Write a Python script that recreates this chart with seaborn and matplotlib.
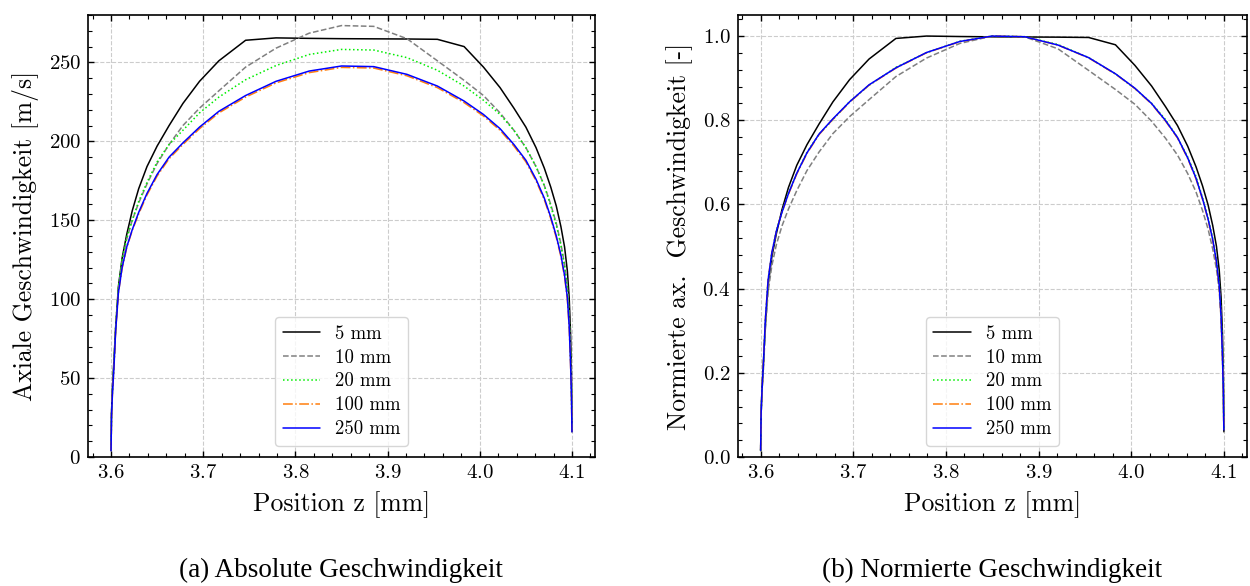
import matplotlib
matplotlib.use("Agg")
import pandas as pd
import matplotlib.pyplot as plt
import seaborn as sns
from matplotlib.ticker import MultipleLocator

# Position across the channel [mm]
z_mm = [3.6000, 3.6005, 3.6015, 3.6030, 3.6050, 3.6080, 3.6120, 3.6170, 3.6230, 3.6300,
        3.6390, 3.6500, 3.6630, 3.6780, 3.6960, 3.7170, 3.7460, 3.7790, 3.8150, 3.8500,
        3.8850, 3.9210, 3.9540, 3.9830, 4.0040, 4.0220, 4.0370, 4.0500, 4.0610, 4.0700,
        4.0770, 4.0830, 4.0880, 4.0920, 4.0950, 4.0970, 4.0985, 4.0995, 4.1000]

# axial velocity [m/s] for each distance
v_5mm = [4, 28, 44, 60, 82, 108, 126, 141, 156, 170,
         184, 197, 210, 224, 238, 251, 264, 265.5, 265.2, 265.0,
         264.9, 264.8, 264.6, 260, 247, 234, 221, 209, 196, 183,
         171, 159, 146, 133, 118, 101, 78, 52, 16]
v_10mm = [4, 27, 42, 57, 82, 107, 124, 138, 150, 161,
          173, 186, 198, 210, 221, 232, 247, 259, 268.5, 273.3,
          272.8, 265, 251, 238.6, 229, 218, 207, 196, 184, 172,
          160, 148, 135, 122, 108, 90, 66, 44, 16]
v_20mm = [4, 27, 42, 57, 83, 108, 125, 139, 150, 162,
          174, 187, 198, 207, 218, 228, 239, 248, 255, 258.2,
          257.8, 253, 245, 235, 226, 217, 207, 196, 184, 172,
          159, 147, 134, 121, 107, 89, 64, 42, 17]
v_100mm = [4, 26, 40, 55, 80, 104, 119.5, 132.5, 143.5, 154,
           166, 178, 189, 198, 208, 218, 228, 237, 243.5, 246.8,
           246.4, 241.5, 234, 224.5, 216, 207, 197, 187, 175, 163,
           151, 139, 127, 114, 100, 82, 58, 38, 16]
v_250mm = [4, 26, 40, 55, 80, 104, 120, 133, 144, 155,
           167, 179, 190, 199, 209, 219, 229, 238, 244.5, 247.7,
           247.3, 242.4, 235, 225.5, 217, 208, 198, 188, 176, 164,
           152, 140, 128, 115, 101, 83, 59, 38, 16]

labels = ["5 mm", "10 mm", "20 mm", "100 mm", "250 mm"]
series = [v_5mm, v_10mm, v_20mm, v_100mm, v_250mm]
colors = ["black", "#808080", "#00ee00", "#ff7f0e", "#0000ff"]
dash_styles = ["", (3.7, 1.6), (1, 1.65), (6.4, 1.6, 1, 1.6), ""]

frames = []
for lab, vals in zip(labels, series):
    d = pd.DataFrame({"z": z_mm, "v": vals})
    d["v_norm"] = d["v"] / d["v"].max()
    d["Abstand"] = lab
    frames.append(d)
df = pd.concat(frames, ignore_index=True)

sns.set_theme(style="ticks")
plt.rcParams["font.family"] = ["cmr10", "DejaVu Serif"]
plt.rcParams["mathtext.fontset"] = "cm"
plt.rcParams["axes.formatter.use_mathtext"] = True
plt.rcParams["axes.unicode_minus"] = False
plt.rcParams["text.color"] = "black"
plt.rcParams["axes.labelcolor"] = "black"

fig = plt.figure(figsize=(12.5, 5.86), dpi=100)
ax1 = fig.add_axes([0.0704, 0.2201, 0.4056, 0.7543])
ax2 = fig.add_axes([0.5900, 0.2201, 0.4076, 0.7543])

for ax, col in [(ax1, "v"), (ax2, "v_norm")]:
    sns.lineplot(data=df, x="z", y=col, hue="Abstand", style="Abstand",
                 hue_order=labels, style_order=labels,
                 palette=dict(zip(labels, colors)),
                 dashes=dict(zip(labels, dash_styles)),
                 linewidth=1.1, estimator=None, sort=False, ax=ax)
    ax.set_xlim(3.575, 4.125)
    ax.xaxis.set_minor_locator(MultipleLocator(0.02))
    ax.grid(True, which="major", linestyle="--", color="#cccccc", linewidth=0.8)
    ax.tick_params(which="both", direction="in", top=True, right=True,
                   labelsize=15, colors="black", pad=5)
    ax.tick_params(which="major", length=4.5, width=1.0)
    ax.tick_params(which="minor", length=2.8, width=0.8)
    for s in ax.spines.values():
        s.set_linewidth(1.2)
        s.set_color("black")
    ax.set_xlabel("Position z [mm]", fontsize=18.5, labelpad=7)
    sns.move_legend(ax, "lower center", title=None, fontsize=13.5,
                    borderaxespad=0.6, frameon=True, labelspacing=0.32)

ax1.set_ylim(0, 280)
ax1.yaxis.set_minor_locator(MultipleLocator(10))
ax1.set_ylabel("Axiale Geschwindigkeit [m/s]", fontsize=18.5, labelpad=7)

ax2.set_ylim(0, 1.05)
ax2.yaxis.set_minor_locator(MultipleLocator(0.04))
ax2.set_ylabel("Normierte ax.  Geschwindigkeit [-]", fontsize=18.5, labelpad=7)

fig.text(0.273, 0.027, "(a) Absolute Geschwindigkeit", ha="center", va="center",
         family="Liberation Serif", fontsize=19.5)
fig.text(0.794, 0.027, "(b) Normierte Geschwindigkeit", ha="center", va="center",
         family="Liberation Serif", fontsize=19.5)

fig.savefig("out.png", dpi=100)
